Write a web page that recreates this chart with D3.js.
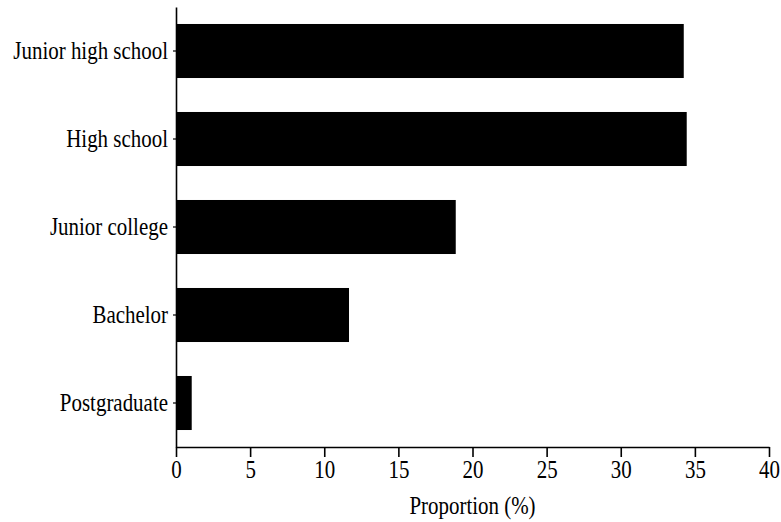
<!DOCTYPE html>
<html>
<head>
<meta charset="utf-8">
<script src="https://cdn.jsdelivr.net/npm/d3@7"></script>
<style>
  body { margin: 0; background: #fff; }
</style>
</head>
<body>
<svg id="chart" width="781" height="522"></svg>
<script>
const categories = ["Junior high school", "High school", "Junior college", "Bachelor", "Postgraduate"];
const proportions = [34.25, 34.45, 18.87, 11.67, 1.06];
const xTicks = [0, 5, 10, 15, 20, 25, 30, 35, 40];
const xTitle = "Proportion (%)";

const svg = d3.select("#chart");
const mLeft = 176, mRight = 769, mTop = 7, mBottom = 447;
const FONT = '"Liberation Serif", "Times New Roman", serif';
const fs = 24.5, sx = 0.855;

const x = d3.scaleLinear().domain([0, 40]).range([mLeft, mRight]);
const y = d3.scaleBand().domain(categories).range([mTop, mBottom])
  .paddingInner(0.386).paddingOuter(0.193);

svg.append("g").selectAll("rect")
  .data(categories.map((c, i) => ({ c, v: proportions[i] })))
  .join("rect")
  .attr("x", x(0))
  .attr("y", d => y(d.c))
  .attr("width", d => x(d.v) - x(0))
  .attr("height", y.bandwidth())
  .attr("fill", "#000");

// X axis
const xg = svg.append("g").attr("transform", `translate(0,${mBottom})`)
  .call(d3.axisBottom(x).tickValues(xTicks).tickSize(10).tickSizeOuter(0).tickPadding(4));
xg.select(".domain").attr("stroke-width", 1.6);
xg.selectAll(".tick line").attr("stroke-width", 1.6);
xg.selectAll(".tick text")
  .style("font-family", FONT)
  .style("font-size", fs + "px")
  .attr("fill", "#000")
  .attr("transform", `scale(${sx},1)`);

// Y axis
const yg = svg.append("g").attr("transform", `translate(${mLeft},0)`)
  .call(d3.axisLeft(y).tickSize(3).tickSizeOuter(0).tickPadding(5));
yg.select(".domain").attr("stroke-width", 1.6);
yg.selectAll(".tick line").attr("stroke-width", 1.2);
yg.selectAll(".tick text")
  .style("font-family", FONT)
  .style("font-size", fs + "px")
  .attr("fill", "#000")
  .attr("transform", `scale(${sx},1)`)
  .attr("x", -8 / sx);

// X title
svg.append("text")
  .attr("transform", `translate(${(mLeft + mRight) / 2},514) scale(${sx},1)`)
  .attr("text-anchor", "middle")
  .style("font-family", FONT)
  .style("font-size", fs + "px")
  .attr("fill", "#000")
  .text(xTitle);
</script>
</body>
</html>
